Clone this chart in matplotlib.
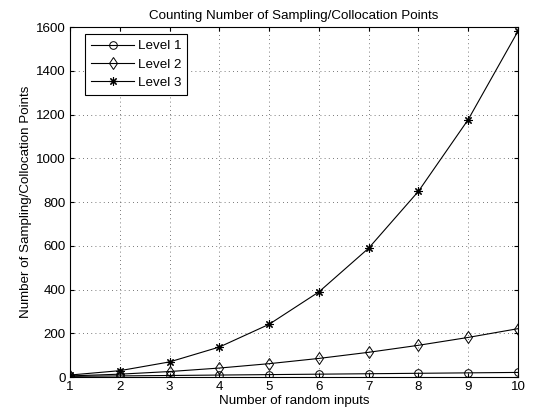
import matplotlib
matplotlib.use("Agg")
import matplotlib.pyplot as plt

plt.rcParams["font.family"] = ["Liberation Sans", "DejaVu Sans"]

# broj slučajnih ulaza i broj točaka po razini
n_inputs = [1, 2, 3, 4, 5, 6, 7, 8, 9, 10]
level1 = [3, 5, 7, 9, 11, 13, 15, 17, 19, 21]
level2 = [5, 13, 25, 41, 61, 85, 113, 145, 181, 221]
level3 = [9, 29, 69, 137, 241, 389, 589, 849, 1177, 1581]

FS = 9.6

fig = plt.figure(figsize=(5.36, 4.19), dpi=100)
ax = fig.add_axes([0.1306, 0.1002, 0.8358, 0.8353])

ax.plot(n_inputs, level1, "k-", marker="o", mfc="none", ms=5.5, lw=0.8, mew=0.7, label="Level 1")
ax.plot(n_inputs, level2, "k-", marker="d", mfc="none", ms=6.5, lw=0.8, mew=0.7, label="Level 2")
ax.plot(n_inputs, level3, "k-", marker=(8, 2, 0), ms=6, lw=0.8, mew=0.8, label="Level 3")

ax.set_xlim(1, 10)
ax.set_ylim(0, 1600)
ax.set_xticks(range(1, 11))
ax.set_yticks(range(0, 1601, 200))
ax.grid(True, linestyle=(0, (1, 4)), color="black", linewidth=0.6, alpha=0.7)
ax.tick_params(direction="in", labelsize=FS, length=3, top=True, right=True, pad=3)
for s in ax.spines.values():
    s.set_linewidth(0.8)

ax.set_title("Counting Number of Sampling/Collocation Points", fontsize=FS, pad=6)
ax.set_xlabel("Number of random inputs", fontsize=FS, labelpad=1)
ax.set_ylabel("Number of Sampling/Collocation Points", fontsize=FS, labelpad=3)

leg = ax.legend(loc="upper left", bbox_to_anchor=(0.034, 0.98), fontsize=FS,
                fancybox=False, edgecolor="black", framealpha=1,
                handlelength=3.2, handletextpad=0.3, borderpad=0.45,
                labelspacing=0.45, borderaxespad=0)
leg.get_frame().set_linewidth(0.8)

fig.savefig("out.png", dpi=100)
